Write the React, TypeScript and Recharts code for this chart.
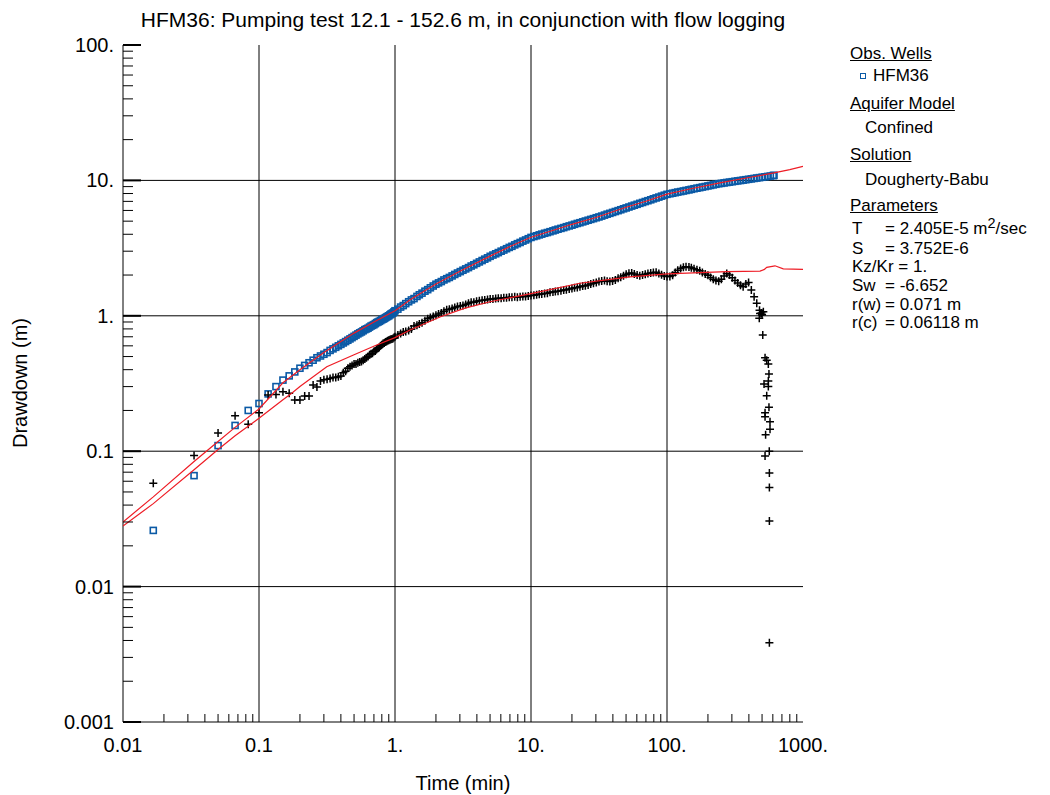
import React from "react";
import { ScatterChart, Scatter, XAxis, YAxis, ReferenceLine } from "recharts";

const BLUE = "#0b5aa6";
const RED = "#ee1c25";
const FONT = '"Liberation Sans", Arial, Helvetica, sans-serif';

// HFM36 observed drawdown: [time (min), drawdown (m)]
const hfm36Obs: [number, number][] = [
  [0.0167, 0.026], [0.0333, 0.066], [0.05, 0.11], [0.0667, 0.155], [0.0833, 0.2],
  [0.1, 0.225], [0.1167, 0.265], [0.1333, 0.3], [0.15, 0.335], [0.1667, 0.36],
  [0.1833, 0.385], [0.2, 0.41], [0.2167, 0.43], [0.2333, 0.45], [0.25, 0.47],
  [0.2667, 0.49], [0.2833, 0.505], [0.3, 0.52], [0.3167, 0.535], [0.3333, 0.555],
  [0.35, 0.57], [0.3667, 0.585], [0.3833, 0.6], [0.4, 0.615], [0.4167, 0.63],
  [0.4333, 0.645], [0.45, 0.66], [0.4667, 0.675], [0.4833, 0.69], [0.5, 0.705],
  [0.5167, 0.72], [0.5333, 0.735], [0.55, 0.748], [0.5667, 0.76], [0.5833, 0.775],
  [0.6, 0.79], [0.6167, 0.8], [0.6333, 0.81], [0.65, 0.825], [0.6667, 0.84],
  [0.6833, 0.85], [0.7, 0.86], [0.7167, 0.875], [0.7333, 0.89], [0.75, 0.9],
  [0.7667, 0.91], [0.7833, 0.922], [0.8, 0.935], [0.8167, 0.945], [0.8333, 0.955],
  [0.85, 0.967], [0.8667, 0.98], [0.8833, 0.99], [0.9, 1.0], [0.9167, 1.015],
  [0.9333, 1.03], [0.95, 1.04], [0.9667, 1.05], [0.9833, 1.07], [1.0, 1.09],
  [1.05, 1.12], [1.1, 1.16], [1.15, 1.19], [1.2, 1.23], [1.26, 1.27], [1.32, 1.31],
  [1.38, 1.34], [1.45, 1.39], [1.51, 1.43], [1.58, 1.47], [1.66, 1.52], [1.74, 1.56],
  [1.82, 1.61], [1.91, 1.66], [2.0, 1.71], [2.09, 1.75], [2.19, 1.79], [2.29, 1.84],
  [2.4, 1.88], [2.51, 1.92], [2.63, 1.97], [2.75, 2.02], [2.88, 2.07], [3.02, 2.12],
  [3.16, 2.17], [3.31, 2.22], [3.47, 2.27], [3.63, 2.33], [3.8, 2.38], [3.98, 2.44],
  [4.17, 2.5], [4.37, 2.56], [4.57, 2.62], [4.79, 2.68], [5.01, 2.75], [5.25, 2.81],
  [5.5, 2.87], [5.75, 2.93], [6.03, 3.0], [6.31, 3.06], [6.61, 3.13], [6.92, 3.2],
  [7.24, 3.26], [7.59, 3.34], [7.94, 3.41], [8.32, 3.48], [8.71, 3.56], [9.12, 3.63],
  [9.55, 3.71], [10, 3.79], [10.5, 3.85], [11, 3.9], [11.5, 3.96], [12, 4.01],
  [12.6, 4.07], [13.2, 4.12], [13.8, 4.18], [14.5, 4.24], [15.1, 4.3], [15.8, 4.36],
  [16.6, 4.42], [17.4, 4.48], [18.2, 4.55], [19.1, 4.61], [20, 4.67], [20.9, 4.74],
  [21.9, 4.81], [22.9, 4.87], [24, 4.94], [25.1, 5.01], [26.3, 5.08], [27.5, 5.15],
  [28.8, 5.22], [30.2, 5.3], [31.6, 5.37], [33.1, 5.45], [34.7, 5.54], [36.3, 5.63],
  [38, 5.71], [39.8, 5.8], [41.7, 5.89], [43.7, 5.98], [45.7, 6.07], [47.9, 6.17],
  [50.1, 6.26], [52.5, 6.36], [55, 6.46], [57.5, 6.56], [60.3, 6.66], [63.1, 6.77],
  [66.1, 6.87], [69.2, 6.98], [72.4, 7.08], [75.9, 7.19], [79.4, 7.31], [83.2, 7.42],
  [87.1, 7.53], [91.2, 7.65], [95.5, 7.77], [100, 7.89], [105, 7.97], [110, 8.04],
  [115, 8.12], [120, 8.2], [126, 8.27], [132, 8.35], [138, 8.43], [145, 8.51],
  [151, 8.59], [158, 8.68], [166, 8.76], [174, 8.84], [182, 8.93], [191, 9.01],
  [200, 9.1], [209, 9.18], [219, 9.27], [229, 9.36], [240, 9.45], [251, 9.51],
  [263, 9.58], [275, 9.65], [288, 9.71], [302, 9.78], [316, 9.85], [331, 9.92],
  [347, 9.98], [363, 10.05], [380, 10.12], [398, 10.19], [417, 10.26], [437, 10.34],
  [457, 10.41], [479, 10.48], [501, 10.55], [525, 10.63], [550, 10.7], [575, 10.77],
  [603, 10.85], [612, 10.9],
];

// second record (crosses): [time (min), drawdown (m)]
const flowLogObs: [number, number][] = [
  [0.0167, 0.058], [0.0333, 0.093], [0.05, 0.136], [0.0667, 0.183], [0.0833, 0.158],
  [0.1, 0.192], [0.1167, 0.26], [0.1333, 0.262], [0.15, 0.275], [0.1667, 0.268],
  [0.1833, 0.239], [0.2, 0.239], [0.2167, 0.256], [0.2333, 0.256], [0.25, 0.308],
  [0.2667, 0.298], [0.2833, 0.33], [0.3, 0.337], [0.3167, 0.34], [0.3333, 0.344],
  [0.35, 0.35], [0.3667, 0.35], [0.3833, 0.355], [0.4, 0.36], [0.4167, 0.38],
  [0.4333, 0.39], [0.45, 0.41], [0.4667, 0.42], [0.4833, 0.43], [0.5, 0.44],
  [0.5167, 0.44], [0.5333, 0.45], [0.55, 0.455], [0.5667, 0.46], [0.5833, 0.47],
  [0.6, 0.48], [0.6167, 0.49], [0.6333, 0.5], [0.65, 0.515], [0.6667, 0.525],
  [0.6833, 0.53], [0.7, 0.545], [0.7167, 0.55], [0.7333, 0.565], [0.75, 0.575],
  [0.7667, 0.585], [0.7833, 0.6], [0.8, 0.61], [0.8167, 0.625], [0.8333, 0.63],
  [0.85, 0.64], [0.8667, 0.645], [0.8833, 0.655], [0.9, 0.66], [0.9167, 0.665],
  [0.9333, 0.67], [0.95, 0.675], [0.9667, 0.68], [0.9833, 0.69],
  [1.0, 0.7], [1.05, 0.72], [1.1, 0.74], [1.15, 0.76], [1.2, 0.765], [1.26, 0.78],
  [1.32, 0.8], [1.38, 0.84], [1.45, 0.85], [1.51, 0.87], [1.58, 0.89], [1.66, 0.92],
  [1.74, 0.95], [1.82, 0.97], [1.91, 0.99], [2.0, 1.01], [2.09, 1.03], [2.19, 1.05],
  [2.29, 1.08], [2.4, 1.11], [2.51, 1.12], [2.63, 1.13], [2.75, 1.15], [2.88, 1.17],
  [3.02, 1.18], [3.16, 1.19], [3.31, 1.21], [3.47, 1.24], [3.63, 1.26], [3.8, 1.26],
  [3.98, 1.28], [4.17, 1.29], [4.37, 1.3], [4.57, 1.31], [4.79, 1.32], [5.01, 1.33],
  [5.25, 1.33], [5.5, 1.34], [5.75, 1.35], [6.03, 1.35], [6.31, 1.36], [6.61, 1.36],
  [6.92, 1.37], [7.24, 1.37], [7.59, 1.38], [7.94, 1.37], [8.32, 1.38], [8.71, 1.39],
  [9.12, 1.39], [9.55, 1.4], [10, 1.41], [10.5, 1.42], [11, 1.43], [11.5, 1.44],
  [12, 1.45], [12.6, 1.46], [13.2, 1.47], [13.8, 1.49], [14.5, 1.5], [15.1, 1.51],
  [15.8, 1.52], [16.6, 1.53], [17.4, 1.55], [18.2, 1.56], [19.1, 1.58], [20, 1.59],
  [20.9, 1.61], [21.9, 1.62], [22.9, 1.64], [24, 1.66], [25.1, 1.67], [26.3, 1.69],
  [27.5, 1.72], [28.8, 1.74], [30.2, 1.76], [31.6, 1.79], [33.1, 1.81], [34.7, 1.82],
  [36.3, 1.8], [38, 1.79], [39.8, 1.81], [41.7, 1.84], [43.7, 1.89], [45.7, 1.93],
  [47.9, 1.98], [50.1, 2.03], [52.5, 2.06], [55, 2.07], [57.5, 2.04], [60.3, 2.0],
  [63.1, 1.98], [66.1, 2.0], [69.2, 2.03], [72.4, 2.05], [75.9, 2.07], [79.4, 2.09],
  [83.2, 2.1], [87.1, 2.05], [91.2, 2.01], [95.5, 1.97], [100, 1.95], [105, 1.95],
  [110, 1.99], [115, 2.09], [120, 2.17], [126, 2.24], [132, 2.28], [138, 2.3],
  [145, 2.29], [151, 2.26], [158, 2.23], [166, 2.19], [174, 2.15], [182, 2.09],
  [191, 2.04], [200, 1.99], [209, 1.92], [219, 1.86], [229, 1.82], [240, 1.8],
  [251, 1.86], [263, 1.97], [275, 2.05], [288, 2.0], [302, 1.91], [316, 1.82],
  [331, 1.75], [347, 1.68], [363, 1.64], [380, 1.72], [398, 1.76], [417, 1.55],
  [437, 1.38], [457, 1.24], [477, 0.96], [479, 1.1], [483, 1.04], [495, 1.05],
  [500, 1.02], [506, 0.72], [511, 1.07], [517, 0.313], [526, 0.49], [526, 0.192],
  [526, 0.18], [526, 0.092], [531, 0.132], [541, 0.47], [541, 0.257], [556, 0.44],
  [556, 0.33], [556, 0.3], [562, 0.372], [562, 0.211], [565, 0.1], [566, 0.069],
  [566, 0.054], [566, 0.0305], [566, 0.00385], [572, 0.165], [572, 0.145],
];

// fitted Dougherty-Babu curves
const modelUpper: [number, number][] = [
  [0.01, 0.03], [0.0167, 0.046], [0.0333, 0.084], [0.05, 0.118], [0.0667, 0.15],
  [0.1, 0.205], [0.15, 0.32], [0.2, 0.4], [0.3, 0.535], [0.5, 0.745], [0.7, 0.9],
  [1, 1.09], [1.3, 1.32], [2, 1.72], [3, 2.13], [5, 2.76], [7, 3.25], [10, 3.8],
  [15, 4.32], [20, 4.74], [30, 5.32], [50, 6.33], [70, 7.02], [100, 7.92],
  [150, 8.68], [250, 9.62], [400, 10.5], [612, 11.35], [800, 12.0], [1000, 12.7],
];

const modelLower: [number, number][] = [
  [0.01, 0.028], [0.0167, 0.041], [0.0333, 0.073], [0.05, 0.103], [0.0667, 0.13],
  [0.1, 0.175], [0.15, 0.24], [0.174, 0.268], [0.2, 0.3], [0.315, 0.42], [0.5, 0.515],
  [0.733, 0.608], [1, 0.69], [1.29, 0.785], [2.14, 0.98], [3.27, 1.14], [5, 1.27],
  [10, 1.46], [22.9, 1.74], [53.4, 1.94], [100, 2.04], [275, 2.12], [483, 2.14],
  [520, 2.2], [541, 2.28], [622, 2.34], [716, 2.22], [1000, 2.2],
];

const xMajor = [0.01, 0.1, 1, 10, 100, 1000];
const xMajorLabels = ["0.01", "0.1", "1.", "10.", "100.", "1000."];
const yMajor = [0.001, 0.01, 0.1, 1, 10, 100];
const yMajorLabels = ["0.001", "0.01", "0.1", "1.", "10.", "100."];

const withMinor = (majors: number[]) => {
  const out: number[] = [];
  majors.forEach((m, i) => {
    out.push(m);
    if (i < majors.length - 1) {
      for (let k = 2; k <= 9; k++) out.push(+(m * k).toPrecision(4));
    }
  });
  return out;
};
const xTicks = withMinor(xMajor);
const yTicks = withMinor(yMajor);

const majorIndex = (majors: number[], v: number) =>
  majors.findIndex((m) => Math.abs(m - v) / m < 1e-6);

const toPoints = (rows: [number, number][]) => rows.map(([t, s]) => ({ t, s }));

// ---- tick renderers (inward minor ticks like the original plot) ----
const BottomTick = (props: any) => {
  const { x, y, payload } = props;
  const i = majorIndex(xMajor, payload.value);
  if (i >= 0) {
    return (
      <text x={x} y={y + 30} textAnchor="middle" fontSize={20} fontFamily={FONT} fill="#000">
        {xMajorLabels[i]}
      </text>
    );
  }
  return <line x1={x} x2={x} y1={y} y2={y - 8} stroke="#000" strokeWidth={1} />;
};

const TopTick = (props: any) => {
  const { x, y, payload } = props;
  if (majorIndex(xMajor, payload.value) >= 0) return <g />;
  return <line x1={x} x2={x} y1={y} y2={y + 8} stroke="#000" strokeWidth={1} />;
};

const LeftTick = (props: any) => {
  const { x, y, payload } = props;
  const i = majorIndex(yMajor, payload.value);
  if (i >= 0) {
    return (
      <g>
        <line x1={x} x2={x + 18} y1={y} y2={y} stroke="#000" strokeWidth={2} />
        <text x={x - 9} y={y + 7} textAnchor="end" fontSize={20} fontFamily={FONT} fill="#000">
          {yMajorLabels[i]}
        </text>
      </g>
    );
  }
  return <line x1={x} x2={x + 10} y1={y} y2={y} stroke="#000" strokeWidth={1} />;
};

const RightTick = (props: any) => {
  const { x, y, payload } = props;
  if (majorIndex(yMajor, payload.value) >= 0) {
    return <line x1={x} x2={x - 18} y1={y} y2={y} stroke="#000" strokeWidth={2} />;
  }
  return <line x1={x} x2={x - 10} y1={y} y2={y} stroke="#000" strokeWidth={1} />;
};

// ---- markers ----
const SquareMark = (props: any) => {
  const { cx, cy } = props;
  if (cx == null || cy == null) return <g />;
  return (
    <rect x={cx - 3} y={cy - 3} width={6} height={6} fill="none" stroke={BLUE} strokeWidth={1.6} />
  );
};

const CrossMark = (props: any) => {
  const { cx, cy } = props;
  if (cx == null || cy == null) return <g />;
  return (
    <path
      d={`M${cx - 4},${cy}H${cx + 4}M${cx},${cy - 4}V${cy + 4}`}
      stroke="#000"
      strokeWidth={1.5}
      fill="none"
    />
  );
};

const NoMark = () => <g />;

const legendRow = (center: number, left: number, content: React.ReactNode, underline = false) => (
  <div
    style={{
      position: "absolute",
      top: center - 10,
      left,
      fontSize: 17,
      lineHeight: "20px",
      whiteSpace: "nowrap",
      textDecoration: underline ? "underline" : "none",
    }}
  >
    {content}
  </div>
);

const paramNames = ["T", "S", "Sw", "r(w)", "r(c)"];
const paramValues: React.ReactNode[] = [
  <>= 2.405E-5 m<sup style={{ fontSize: "0.85em", lineHeight: 0, verticalAlign: "0.45em" }}>2</sup>/sec</>,
  "= 3.752E-6",
  "= -6.652",
  "= 0.071 m",
  "= 0.06118 m",
];
const paramRows = [229, 249, 286, 305, 323];

export default function App() {
  return (
    <div
      style={{
        position: "absolute",
        left: 0,
        top: 0,
        width: 1050,
        height: 795,
        background: "#fff",
        fontFamily: FONT,
        color: "#000",
      }}
    >
      <div
        style={{
          position: "absolute",
          top: 8,
          left: 123,
          width: 680,
          textAlign: "center",
          fontSize: 21,
          lineHeight: "24px",
          whiteSpace: "nowrap",
        }}
      >
        HFM36: Pumping test 12.1 - 152.6 m, in conjunction with flow logging
      </div>

      <ScatterChart width={1050} height={795} margin={{ top: 45, right: 247, bottom: 43, left: 63 }}>
        <XAxis
          xAxisId="b"
          dataKey="t"
          type="number"
          scale="log"
          domain={[0.01, 1000]}
          allowDataOverflow
          ticks={xTicks}
          interval={0}
          tickSize={0}
          tickMargin={0}
          tickLine={false}
          tick={<BottomTick />}
          axisLine={{ stroke: "#000" }}
          height={30}
        />
        <XAxis
          xAxisId="t"
          orientation="top"
          dataKey="t"
          type="number"
          scale="log"
          domain={[0.01, 1000]}
          allowDataOverflow
          ticks={xTicks}
          interval={0}
          tickSize={0}
          tickMargin={0}
          tickLine={false}
          tick={<TopTick />}
          axisLine={{ stroke: "#000" }}
          height={0}
        />
        <YAxis
          yAxisId="l"
          dataKey="s"
          type="number"
          scale="log"
          domain={[0.001, 100]}
          allowDataOverflow
          ticks={yTicks}
          interval={0}
          tickSize={0}
          tickMargin={0}
          tickLine={false}
          tick={<LeftTick />}
          axisLine={{ stroke: "#000" }}
          width={60}
        />
        <YAxis
          yAxisId="r"
          orientation="right"
          dataKey="s"
          type="number"
          scale="log"
          domain={[0.001, 100]}
          allowDataOverflow
          ticks={yTicks}
          interval={0}
          tickSize={0}
          tickMargin={0}
          tickLine={false}
          tick={<RightTick />}
          axisLine={{ stroke: "#000" }}
          width={0}
        />

        {xMajor.slice(1, -1).map((v) => (
          <ReferenceLine key={`vx${v}`} xAxisId="b" yAxisId="l" x={v} stroke="#000" strokeWidth={1} />
        ))}
        {yMajor.slice(1, -1).map((v) => (
          <ReferenceLine key={`hy${v}`} xAxisId="b" yAxisId="l" y={v} stroke="#000" strokeWidth={1} />
        ))}

        <Scatter
          name="HFM36"
          xAxisId="b"
          yAxisId="l"
          data={toPoints(hfm36Obs)}
          shape={<SquareMark />}
          isAnimationActive={false}
        />
        <Scatter
          name="flow logging"
          xAxisId="b"
          yAxisId="l"
          data={toPoints(flowLogObs)}
          shape={<CrossMark />}
          isAnimationActive={false}
        />
        <Scatter
          name="model upper"
          xAxisId="b"
          yAxisId="l"
          data={toPoints(modelUpper)}
          line={{ stroke: RED, strokeWidth: 1.2 }}
          lineType="joint"
          shape={<NoMark />}
          isAnimationActive={false}
        />
        <Scatter
          name="model lower"
          xAxisId="b"
          yAxisId="l"
          data={toPoints(modelLower)}
          line={{ stroke: RED, strokeWidth: 1.2 }}
          lineType="joint"
          shape={<NoMark />}
          isAnimationActive={false}
        />
      </ScatterChart>

      <div
        style={{
          position: "absolute",
          top: 771,
          left: 123,
          width: 680,
          textAlign: "center",
          fontSize: 20,
          lineHeight: "24px",
        }}
      >
        Time (min)
      </div>
      <div
        style={{
          position: "absolute",
          left: 20,
          top: 383,
          fontSize: 20,
          lineHeight: "24px",
          whiteSpace: "nowrap",
          transform: "translate(-50%, -50%) rotate(-90deg)",
        }}
      >
        Drawdown (m)
      </div>

      {legendRow(54, 850, "Obs. Wells", true)}
      <div
        style={{
          position: "absolute",
          left: 860,
          top: 73,
          width: 4,
          height: 4,
          border: `1.5px solid ${BLUE}`,
        }}
      />
      {legendRow(76, 873, "HFM36")}
      {legendRow(104, 850, "Aquifer Model", true)}
      {legendRow(128, 865, "Confined")}
      {legendRow(155, 850, "Solution", true)}
      {legendRow(180, 865, "Dougherty-Babu")}
      {legendRow(206, 850, "Parameters", true)}
      {paramNames.map((name, i) => (
        <React.Fragment key={name}>
          {legendRow(paramRows[i], 852, name)}
          {legendRow(paramRows[i], 885, paramValues[i])}
        </React.Fragment>
      ))}
      {legendRow(267, 852, "Kz/Kr = 1.")}
    </div>
  );
}
